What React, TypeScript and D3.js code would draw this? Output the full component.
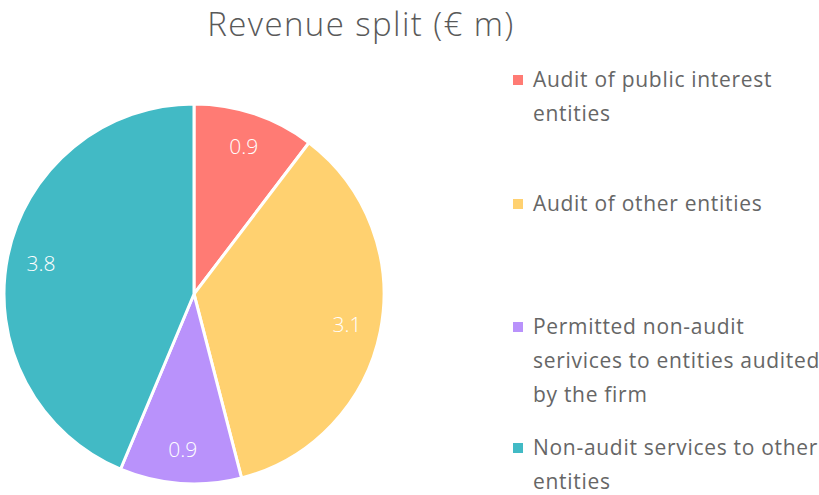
import React from "react";
import * as d3 from "d3";

const categories = [
  "Audit of public interest entities",
  "Audit of other entities",
  "Permitted non-audit serivices to entities audited by the firm",
  "Non-audit services to other entities",
];
const legendLines = [
  ["Audit of public interest", "entities"],
  ["Audit of other entities"],
  ["Permitted non-audit", "serivices to entities audited", "by the firm"],
  ["Non-audit services to other", "entities"],
];
const values = [0.9, 3.1, 0.9, 3.8];
const colors = ["#FF7B74", "#FFD170", "#B992FB", "#42BAC5"];
const legendRowY = [80, 204, 327, 448];

const W = 819;
const H = 495;
const FONT = "'Open Sans', Lato, sans-serif";

export default function App() {
  const cx = 194;
  const cy = 294;
  const r = 190;
  const pie = d3.pie<number>().sort(null).value((d) => d);
  const arcs = pie(values);
  const arcGen = d3.arc<d3.PieArcDatum<number>>().innerRadius(0).outerRadius(r);
  const labelArc = d3.arc<d3.PieArcDatum<number>>().innerRadius(156).outerRadius(156);
  const lineH = 34;

  return (
    <svg width={W} height={H} style={{ position: "absolute", left: 0, top: 0 }}>
      <text x={361} y={36} textAnchor="middle" fontFamily={FONT} fontSize={33} fontWeight={300} letterSpacing={1.4} fill="#595959">
        Revenue split (€ m)
      </text>
      <g transform={`translate(${cx},${cy})`}>
        {arcs.map((a, i) => (
          <path key={i} d={arcGen(a) || ""} fill={colors[i]} stroke="#fff" strokeWidth={3} strokeLinejoin="round" />
        ))}
        {arcs.map((a, i) => {
          const [x, y] = labelArc.centroid(a);
          return (
            <text key={i} x={x} y={y} dy="0.35em" textAnchor="middle" fontFamily={FONT} fontSize={21} fontWeight={300} fill="#fff">
              {d3.format(".1f")(values[i])}
            </text>
          );
        })}
      </g>
      {categories.map((c, i) => (
        <g key={c}>
          <rect x={513} y={legendRowY[i] - 5} width={10} height={10} fill={colors[i]} />
          {legendLines[i].map((ln, j) => (
            <text key={j} x={533} y={legendRowY[i] + j * lineH} dy="0.35em" fontFamily={FONT} fontSize={21} fontWeight={400} letterSpacing={0.7} fill="#666">
              {ln}
            </text>
          ))}
        </g>
      ))}
    </svg>
  );
}
